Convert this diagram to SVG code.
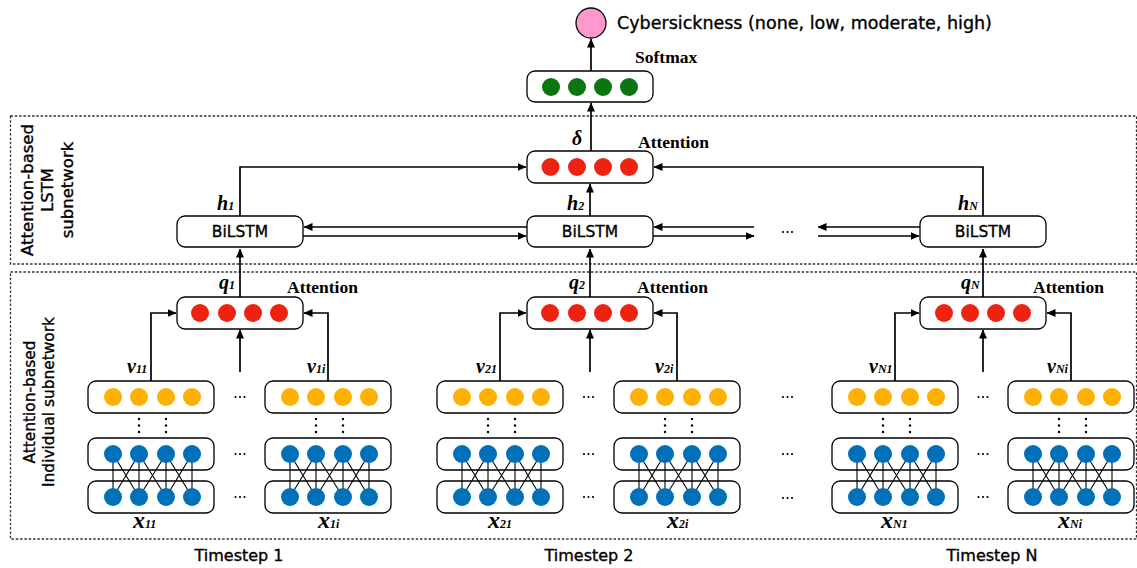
<svg xmlns="http://www.w3.org/2000/svg" width="1137" height="568" viewBox="0 0 1137 568">
<defs>
<marker id="arr" markerUnits="userSpaceOnUse" markerWidth="9" markerHeight="8" refX="8.5" refY="4" orient="auto">
<path d="M0,0 L9,4 L0,8 z" fill="#000"/>
</marker>
<style>
.box{fill:#fff;stroke:#000;stroke-width:1.3}
.dash{fill:none;stroke:#333;stroke-width:1.3;stroke-dasharray:2.5 1.8}
.con{fill:none;stroke:#000;stroke-width:1.7;marker-end:url(#arr)}
.mesh{stroke:#000;stroke-width:1.1}
.g{fill:#0b750f}
.r{fill:#ee2211}
.o{fill:#ffb000}
.b{fill:#0070b8}
.dot{fill:#000}
.sans{font-family:"DejaVu Sans",sans-serif;fill:#000;stroke:#000;stroke-width:0.35}
.lab{font-family:"Liberation Serif","Times New Roman",serif;font-weight:bold;font-style:italic;font-size:20px;fill:#000}
.big{font-size:24px}
.sub{font-size:12px}
.ttl{font-family:"Liberation Serif","Times New Roman",serif;font-weight:bold;font-size:17.5px;fill:#000}
</style>
</defs>
<rect width="1137" height="568" fill="#fff"/>

<g id="frames">
<rect class="dash" x="10.5" y="116" width="1126" height="148"/>
<rect class="dash" x="10.5" y="272" width="1126" height="267"/>
<text class="sans" font-size="16.5" text-anchor="middle" transform="translate(33,190) rotate(-90)">Attention-based</text>
<text class="sans" font-size="16.5" text-anchor="middle" transform="translate(53,190) rotate(-90)">LSTM</text>
<text class="sans" font-size="16.5" text-anchor="middle" transform="translate(73,190) rotate(-90)">subnetwork</text>
<text class="sans" font-size="15.4" text-anchor="middle" transform="translate(35,402) rotate(-90)">Attention-based</text>
<text class="sans" font-size="15.4" text-anchor="middle" transform="translate(54,402) rotate(-90)">Individual subnetwork</text>
</g>

<g id="connectors">
<line class="con" x1="591" y1="71" x2="591" y2="39"/>
<line class="con" x1="591" y1="151" x2="591" y2="103"/>
<line class="con" x1="590" y1="216" x2="590" y2="184"/>
<polyline class="con" points="240,216 240,167 526,167"/>
<polyline class="con" points="983,216 983,167 654,167"/>
<line class="con" x1="527" y1="227" x2="304" y2="227"/>
<line class="con" x1="303" y1="236" x2="526" y2="236"/>
<line class="con" x1="754" y1="227" x2="654" y2="227"/>
<line class="con" x1="653" y1="236" x2="754" y2="236"/>
<line class="con" x1="920" y1="227" x2="818" y2="227"/>
<line class="con" x1="818" y1="236" x2="919" y2="236"/>
<line class="con" x1="240" y1="297" x2="240" y2="249"/>
<line class="con" x1="590" y1="297" x2="590" y2="249"/>
<line class="con" x1="983" y1="297" x2="983" y2="249"/>
<line class="con" x1="240" y1="372" x2="240" y2="330"/>
<line class="con" x1="590" y1="372" x2="590" y2="330"/>
<line class="con" x1="983" y1="372" x2="983" y2="330"/>
<polyline class="con" points="151,381 151,313 176,313"/>
<polyline class="con" points="328,381 328,313 304,313"/>
<polyline class="con" points="500,381 500,313 526,313"/>
<polyline class="con" points="677,381 677,313 654,313"/>
<polyline class="con" points="895,381 895,313 919,313"/>
<polyline class="con" points="1071,381 1071,313 1047,313"/>
</g>

<g id="output">
<circle cx="591" cy="23" r="15" fill="#ff99cc" stroke="#000" stroke-width="1.3"/>
<text class="sans" x="617" y="29" font-size="17.5">Cybersickness (none, low, moderate, high)</text>
</g>

<g id="softmax">
<rect class="box" x="527" y="71" width="126" height="31" rx="8"/>
<circle class="g" cx="551" cy="87" r="9"/><circle class="g" cx="577" cy="87" r="9"/><circle class="g" cx="603" cy="87" r="9"/><circle class="g" cx="629" cy="87" r="9"/>
<text class="ttl" x="635" y="63">Softmax</text>
</g>

<g id="attention-top">
<rect class="box" x="527" y="151" width="126" height="32" rx="8"/>
<circle class="r" cx="550.5" cy="167" r="9"/><circle class="r" cx="577" cy="167" r="9"/><circle class="r" cx="603" cy="167" r="9"/><circle class="r" cx="629" cy="167" r="9"/>
<text class="ttl" x="638" y="148">Attention</text>
<text class="lab" x="572" y="145">δ</text>
</g>

<g id="bilstm-1">
<rect class="box" x="177" y="216" width="126" height="31" rx="8"/>
<text class="sans" x="240" y="237" font-size="15.5" text-anchor="middle">BiLSTM</text>
<text class="lab" x="217" y="210">h<tspan class="sub">1</tspan></text>
</g>
<g id="bilstm-2">
<rect class="box" x="527" y="216" width="126" height="31" rx="8"/>
<text class="sans" x="590" y="237" font-size="15.5" text-anchor="middle">BiLSTM</text>
<text class="lab" x="567" y="210">h<tspan class="sub">2</tspan></text>
</g>
<g id="bilstm-n">
<rect class="box" x="920" y="216" width="126" height="31" rx="8"/>
<text class="sans" x="983" y="237" font-size="15.5" text-anchor="middle">BiLSTM</text>
<text class="lab" x="958" y="210">h<tspan class="sub">N</tspan></text>
</g>

<g id="ellipses">
<g class="dot">
<circle cx="783" cy="232" r="1.1"/><circle cx="787.5" cy="232" r="1.1"/><circle cx="792" cy="232" r="1.1"/>
<circle cx="783" cy="397" r="1.1"/><circle cx="787.5" cy="397" r="1.1"/><circle cx="792" cy="397" r="1.1"/>
<circle cx="783" cy="454" r="1.1"/><circle cx="787.5" cy="454" r="1.1"/><circle cx="792" cy="454" r="1.1"/>
<circle cx="783" cy="498" r="1.1"/><circle cx="787.5" cy="498" r="1.1"/><circle cx="792" cy="498" r="1.1"/>
</g>
</g>

<g id="att-1">
<rect class="box" x="177" y="297" width="126" height="32" rx="8"/>
<circle class="r" cx="200" cy="313" r="9"/><circle class="r" cx="227" cy="313" r="9"/><circle class="r" cx="253" cy="313" r="9"/><circle class="r" cx="279" cy="313" r="9"/>
<text class="ttl" x="287" y="293">Attention</text>
<text class="lab" x="219" y="289">q<tspan class="sub">1</tspan></text>
</g>
<g id="att-2">
<rect class="box" x="527" y="297" width="126" height="32" rx="8"/>
<circle class="r" cx="550" cy="313" r="9"/><circle class="r" cx="577" cy="313" r="9"/><circle class="r" cx="603" cy="313" r="9"/><circle class="r" cx="629" cy="313" r="9"/>
<text class="ttl" x="637" y="293">Attention</text>
<text class="lab" x="569" y="289">q<tspan class="sub">2</tspan></text>
</g>
<g id="att-n">
<rect class="box" x="920" y="297" width="126" height="32" rx="8"/>
<circle class="r" cx="944" cy="313" r="9"/><circle class="r" cx="970" cy="313" r="9"/><circle class="r" cx="996" cy="313" r="9"/><circle class="r" cx="1022" cy="313" r="9"/>
<text class="ttl" x="1033" y="293">Attention</text>
<text class="lab" x="961" y="289">q<tspan class="sub">N</tspan></text>
</g>

<!-- Timestep 1 -->
<g id="t1-net1">
<rect class="box" x="88" y="381" width="126" height="32" rx="8"/>
<circle class="o" cx="113" cy="397" r="9"/><circle class="o" cx="139" cy="397" r="9"/><circle class="o" cx="166" cy="397" r="9"/><circle class="o" cx="192" cy="397" r="9"/>
<g class="dot"><circle cx="139" cy="419" r="1.2"/><circle cx="139" cy="425.5" r="1.2"/><circle cx="139" cy="432" r="1.2"/><circle cx="166" cy="419" r="1.2"/><circle cx="166" cy="425.5" r="1.2"/><circle cx="166" cy="432" r="1.2"/></g>
<rect class="box" x="88" y="438" width="126" height="32" rx="8"/>
<rect class="box" x="88" y="481" width="126" height="32" rx="8"/>
<path class="mesh" d="M113,454 L113,497 M139,454 L139,497 M166,454 L166,497 M192,454 L192,497 M113,454 L139,497 M139,454 L113,497 M139,454 L166,497 M166,454 L139,497 M166,454 L192,497 M192,454 L166,497"/>
<circle class="b" cx="113" cy="454" r="9"/><circle class="b" cx="139" cy="454" r="9"/><circle class="b" cx="166" cy="454" r="9"/><circle class="b" cx="192" cy="454" r="9"/>
<circle class="b" cx="113" cy="497" r="9"/><circle class="b" cx="139" cy="497" r="9"/><circle class="b" cx="166" cy="497" r="9"/><circle class="b" cx="192" cy="497" r="9"/>
<text class="lab" x="127" y="373">v<tspan class="sub">11</tspan></text>
<text class="lab big" x="133" y="528">x<tspan class="sub">11</tspan></text>
</g>
<g id="t1-neti">
<rect class="box" x="265" y="381" width="126" height="32" rx="8"/>
<circle class="o" cx="290" cy="397" r="9"/><circle class="o" cx="316" cy="397" r="9"/><circle class="o" cx="343" cy="397" r="9"/><circle class="o" cx="369" cy="397" r="9"/>
<g class="dot"><circle cx="316" cy="419" r="1.2"/><circle cx="316" cy="425.5" r="1.2"/><circle cx="316" cy="432" r="1.2"/><circle cx="343" cy="419" r="1.2"/><circle cx="343" cy="425.5" r="1.2"/><circle cx="343" cy="432" r="1.2"/></g>
<rect class="box" x="265" y="438" width="126" height="32" rx="8"/>
<rect class="box" x="265" y="481" width="126" height="32" rx="8"/>
<path class="mesh" d="M290,454 L290,497 M316,454 L316,497 M343,454 L343,497 M369,454 L369,497 M290,454 L316,497 M316,454 L290,497 M316,454 L343,497 M343,454 L316,497 M343,454 L369,497 M369,454 L343,497"/>
<circle class="b" cx="290" cy="454" r="9"/><circle class="b" cx="316" cy="454" r="9"/><circle class="b" cx="343" cy="454" r="9"/><circle class="b" cx="369" cy="454" r="9"/>
<circle class="b" cx="290" cy="497" r="9"/><circle class="b" cx="316" cy="497" r="9"/><circle class="b" cx="343" cy="497" r="9"/><circle class="b" cx="369" cy="497" r="9"/>
<text class="lab" x="307" y="373">v<tspan class="sub">1i</tspan></text>
<text class="lab big" x="318" y="528">x<tspan class="sub">1i</tspan></text>
</g>
<g id="t1-dots" class="dot">
<circle cx="235.5" cy="397" r="1.1"/><circle cx="240" cy="397" r="1.1"/><circle cx="244.5" cy="397" r="1.1"/>
<circle cx="235.5" cy="454" r="1.1"/><circle cx="240" cy="454" r="1.1"/><circle cx="244.5" cy="454" r="1.1"/>
<circle cx="235.5" cy="497" r="1.1"/><circle cx="240" cy="497" r="1.1"/><circle cx="244.5" cy="497" r="1.1"/>
</g>
<text id="t1-label" class="sans" x="239" y="561" font-size="16" text-anchor="middle">Timestep 1</text>

<!-- Timestep 2 -->
<g id="t2-net1">
<rect class="box" x="437" y="381" width="126" height="32" rx="8"/>
<circle class="o" cx="462" cy="397" r="9"/><circle class="o" cx="488" cy="397" r="9"/><circle class="o" cx="515" cy="397" r="9"/><circle class="o" cx="541" cy="397" r="9"/>
<g class="dot"><circle cx="488" cy="419" r="1.2"/><circle cx="488" cy="425.5" r="1.2"/><circle cx="488" cy="432" r="1.2"/><circle cx="515" cy="419" r="1.2"/><circle cx="515" cy="425.5" r="1.2"/><circle cx="515" cy="432" r="1.2"/></g>
<rect class="box" x="437" y="438" width="126" height="32" rx="8"/>
<rect class="box" x="437" y="481" width="126" height="32" rx="8"/>
<path class="mesh" d="M462,454 L462,497 M488,454 L488,497 M515,454 L515,497 M541,454 L541,497 M462,454 L488,497 M488,454 L462,497 M488,454 L515,497 M515,454 L488,497 M515,454 L541,497 M541,454 L515,497"/>
<circle class="b" cx="462" cy="454" r="9"/><circle class="b" cx="488" cy="454" r="9"/><circle class="b" cx="515" cy="454" r="9"/><circle class="b" cx="541" cy="454" r="9"/>
<circle class="b" cx="462" cy="497" r="9"/><circle class="b" cx="488" cy="497" r="9"/><circle class="b" cx="515" cy="497" r="9"/><circle class="b" cx="541" cy="497" r="9"/>
<text class="lab" x="476" y="373">v<tspan class="sub">21</tspan></text>
<text class="lab big" x="488" y="528">x<tspan class="sub">21</tspan></text>
</g>
<g id="t2-neti">
<rect class="box" x="614" y="381" width="126" height="32" rx="8"/>
<circle class="o" cx="639" cy="397" r="9"/><circle class="o" cx="665" cy="397" r="9"/><circle class="o" cx="692" cy="397" r="9"/><circle class="o" cx="718" cy="397" r="9"/>
<g class="dot"><circle cx="665" cy="419" r="1.2"/><circle cx="665" cy="425.5" r="1.2"/><circle cx="665" cy="432" r="1.2"/><circle cx="692" cy="419" r="1.2"/><circle cx="692" cy="425.5" r="1.2"/><circle cx="692" cy="432" r="1.2"/></g>
<rect class="box" x="614" y="438" width="126" height="32" rx="8"/>
<rect class="box" x="614" y="481" width="126" height="32" rx="8"/>
<path class="mesh" d="M639,454 L639,497 M665,454 L665,497 M692,454 L692,497 M718,454 L718,497 M639,454 L665,497 M665,454 L639,497 M665,454 L692,497 M692,454 L665,497 M692,454 L718,497 M718,454 L692,497"/>
<circle class="b" cx="639" cy="454" r="9"/><circle class="b" cx="665" cy="454" r="9"/><circle class="b" cx="692" cy="454" r="9"/><circle class="b" cx="718" cy="454" r="9"/>
<circle class="b" cx="639" cy="497" r="9"/><circle class="b" cx="665" cy="497" r="9"/><circle class="b" cx="692" cy="497" r="9"/><circle class="b" cx="718" cy="497" r="9"/>
<text class="lab" x="655" y="373">v<tspan class="sub">2i</tspan></text>
<text class="lab big" x="667" y="528">x<tspan class="sub">2i</tspan></text>
</g>
<g id="t2-dots" class="dot">
<circle cx="584" cy="397" r="1.1"/><circle cx="588.5" cy="397" r="1.1"/><circle cx="593" cy="397" r="1.1"/>
<circle cx="584" cy="454" r="1.1"/><circle cx="588.5" cy="454" r="1.1"/><circle cx="593" cy="454" r="1.1"/>
<circle cx="584" cy="497" r="1.1"/><circle cx="588.5" cy="497" r="1.1"/><circle cx="593" cy="497" r="1.1"/>
</g>
<text id="t2-label" class="sans" x="589" y="561" font-size="16" text-anchor="middle">Timestep 2</text>

<!-- Timestep N -->
<g id="tn-net1">
<rect class="box" x="832" y="381" width="126" height="32" rx="8"/>
<circle class="o" cx="857" cy="397" r="9"/><circle class="o" cx="883" cy="397" r="9"/><circle class="o" cx="910" cy="397" r="9"/><circle class="o" cx="936" cy="397" r="9"/>
<g class="dot"><circle cx="883" cy="419" r="1.2"/><circle cx="883" cy="425.5" r="1.2"/><circle cx="883" cy="432" r="1.2"/><circle cx="910" cy="419" r="1.2"/><circle cx="910" cy="425.5" r="1.2"/><circle cx="910" cy="432" r="1.2"/></g>
<rect class="box" x="832" y="438" width="126" height="32" rx="8"/>
<rect class="box" x="832" y="481" width="126" height="32" rx="8"/>
<path class="mesh" d="M857,454 L857,497 M883,454 L883,497 M910,454 L910,497 M936,454 L936,497 M857,454 L883,497 M883,454 L857,497 M883,454 L910,497 M910,454 L883,497 M910,454 L936,497 M936,454 L910,497"/>
<circle class="b" cx="857" cy="454" r="9"/><circle class="b" cx="883" cy="454" r="9"/><circle class="b" cx="910" cy="454" r="9"/><circle class="b" cx="936" cy="454" r="9"/>
<circle class="b" cx="857" cy="497" r="9"/><circle class="b" cx="883" cy="497" r="9"/><circle class="b" cx="910" cy="497" r="9"/><circle class="b" cx="936" cy="497" r="9"/>
<text class="lab" x="869" y="373">v<tspan class="sub">N1</tspan></text>
<text class="lab big" x="881" y="528">x<tspan class="sub">N1</tspan></text>
</g>
<g id="tn-neti">
<rect class="box" x="1008" y="381" width="126" height="32" rx="8"/>
<circle class="o" cx="1033" cy="397" r="9"/><circle class="o" cx="1059" cy="397" r="9"/><circle class="o" cx="1086" cy="397" r="9"/><circle class="o" cx="1112" cy="397" r="9"/>
<g class="dot"><circle cx="1059" cy="419" r="1.2"/><circle cx="1059" cy="425.5" r="1.2"/><circle cx="1059" cy="432" r="1.2"/><circle cx="1086" cy="419" r="1.2"/><circle cx="1086" cy="425.5" r="1.2"/><circle cx="1086" cy="432" r="1.2"/></g>
<rect class="box" x="1008" y="438" width="126" height="32" rx="8"/>
<rect class="box" x="1008" y="481" width="126" height="32" rx="8"/>
<path class="mesh" d="M1033,454 L1033,497 M1059,454 L1059,497 M1086,454 L1086,497 M1112,454 L1112,497 M1033,454 L1059,497 M1059,454 L1033,497 M1059,454 L1086,497 M1086,454 L1059,497 M1086,454 L1112,497 M1112,454 L1086,497"/>
<circle class="b" cx="1033" cy="454" r="9"/><circle class="b" cx="1059" cy="454" r="9"/><circle class="b" cx="1086" cy="454" r="9"/><circle class="b" cx="1112" cy="454" r="9"/>
<circle class="b" cx="1033" cy="497" r="9"/><circle class="b" cx="1059" cy="497" r="9"/><circle class="b" cx="1086" cy="497" r="9"/><circle class="b" cx="1112" cy="497" r="9"/>
<text class="lab" x="1047" y="373">v<tspan class="sub">Ni</tspan></text>
<text class="lab big" x="1058" y="528">x<tspan class="sub">Ni</tspan></text>
</g>
<g id="tn-dots" class="dot">
<circle cx="978.5" cy="397" r="1.1"/><circle cx="983" cy="397" r="1.1"/><circle cx="987.5" cy="397" r="1.1"/>
<circle cx="978.5" cy="454" r="1.1"/><circle cx="983" cy="454" r="1.1"/><circle cx="987.5" cy="454" r="1.1"/>
<circle cx="978.5" cy="497" r="1.1"/><circle cx="983" cy="497" r="1.1"/><circle cx="987.5" cy="497" r="1.1"/>
</g>
<text id="tn-label" class="sans" x="992" y="561" font-size="16" text-anchor="middle">Timestep N</text>
</svg>
